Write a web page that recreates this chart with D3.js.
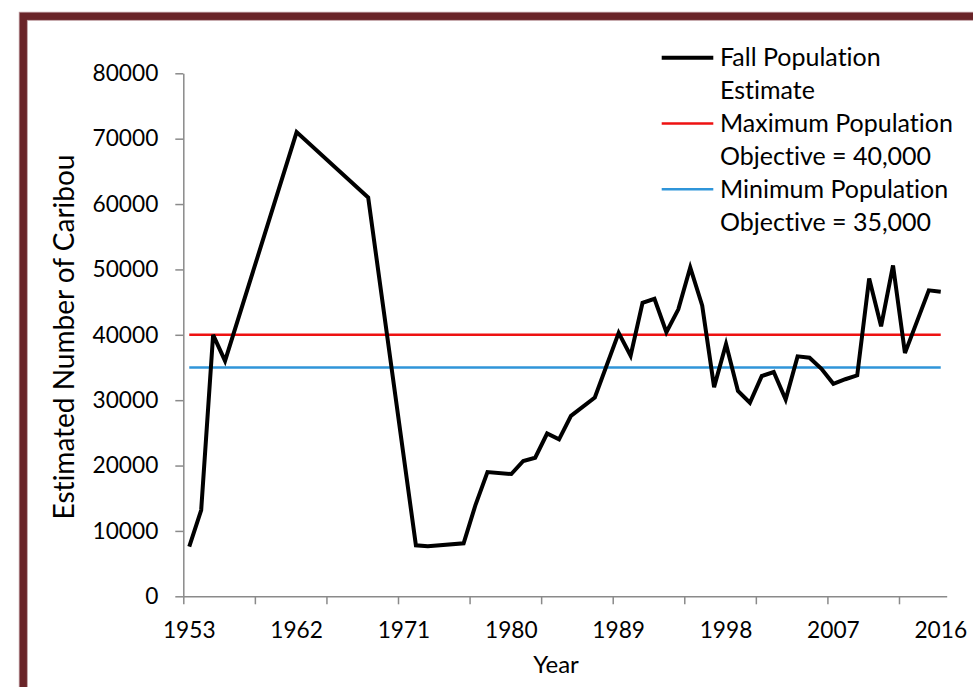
<!doctype html>
<html lang="en">
<head>
  <meta charset="UTF-8">
  <title>Caribou population</title>
  <style>
    body {
      margin: 0;
      background: #fff;
    }
    #app {
      position: relative;
      width: 973px;
      height: 687px;
      overflow: hidden;
    }
    text {
      font-family: Lato, "Open Sans", sans-serif;
      font-variant-ligatures: none;
      font-feature-settings: "liga" 0, "clig" 0, "dlig" 0;
      fill: #000;
    }
  </style>
</head>
<body>
<div id="app"></div>
<script src="https://cdnjs.cloudflare.com/ajax/libs/d3/7.8.5/d3.min.js"></script>
<script>
  var width = 973;
  var height = 687;

  // fall population estimate, only years that have a survey
  var years = [1953, 1954, 1955, 1956, 1962, 1968, 1972, 1973, 1976, 1977,
               1978, 1980, 1981, 1982, 1983, 1984, 1985, 1987, 1989, 1990,
               1991, 1992, 1993, 1994, 1995, 1996, 1997, 1998, 1999, 2000,
               2001, 2002, 2003, 2004, 2005, 2006, 2007, 2008, 2009, 2010,
               2011, 2012, 2013, 2015, 2016];
  var estimates = [7600, 13200, 40000, 36000, 71000, 61000, 7800, 7650, 8100, 14000,
                   19000, 18700, 20700, 21200, 24900, 24000, 27600, 30400, 40300, 36800,
                   44900, 45500, 40400, 43900, 50300, 44500, 32000, 38600, 31400, 29600,
                   33700, 34300, 30100, 36700, 36500, 34800, 32500, 33200, 33800, 48600,
                   41300, 50600, 37200, 46800, 46600];

  var firstYear = 1953;
  var lastYear = 2016;
  var maxObjective = 40000;
  var minObjective = 35000;

  var yTicks = [0, 10000, 20000, 30000, 40000, 50000, 60000, 70000, 80000];
  var yearLabels = [1953, 1962, 1971, 1980, 1989, 1998, 2007, 2016];

  var legendItems = [
    {lines: ['Fall Population', 'Estimate'], color: '#000', w: 4},
    {lines: ['Maximum Population', 'Objective = 40,000'], color: '#ee1111', w: 2.5},
    {lines: ['Minimum Population', 'Objective = 35,000'], color: '#2f95d9', w: 2.5}
  ];

  var svg = d3.select('#app')
              .append('svg')
              .attr('width', width)
              .attr('height', height);

  // maroon frame, cut off on the right and bottom
  svg.append('rect')
    .attr('x', 23.3)
    .attr('y', 16.3)
    .attr('width', 1000)
    .attr('height', 1000)
    .attr('fill', 'none')
    .attr('stroke', '#b9969a')
    .attr('stroke-width', 9);
  svg.append('rect')
    .attr('x', 23.3)
    .attr('y', 16.3)
    .attr('width', 1000)
    .attr('height', 1000)
    .attr('fill', 'none')
    .attr('stroke', '#692428')
    .attr('stroke-width', 7.2);

  // category axis: one slot per year, points sit in the middle of a slot
  var x = d3.scaleLinear()
            .domain([firstYear - 0.5, lastYear + 0.5])
            .range([183.3, 946.7]);
  var y = d3.scaleLinear()
            .domain([0, 80000])
            .range([596.3, 73.3]);

  var axisColor = '#8a8a8a';

  var tickSlots = d3.range(firstYear - 0.5, lastYear + 0.5, 6);

  var gx = svg.append('g')
    .attr('transform', 'translate(0,' + y(0) + ')')
    .call(d3.axisBottom(x).tickValues(tickSlots).tickFormat('').tickSize(8).tickSizeOuter(0));
  gx.selectAll('path, line').attr('stroke', axisColor).attr('stroke-width', 1.5);

  var gy = svg.append('g')
    .attr('transform', 'translate(' + x(firstYear - 0.5) + ',0)')
    .call(d3.axisLeft(y).tickValues(yTicks).tickSize(8).tickSizeOuter(0).tickPadding(17).tickFormat(d3.format('d')));
  gy.selectAll('path, line').attr('stroke', axisColor).attr('stroke-width', 1.5);
  gy.selectAll('text')
    .attr('font-size', '22.7px')
    .attr('font-family', 'Lato, sans-serif')
    .attr('fill', '#000');

  svg.append('g')
    .selectAll('text')
    .data(yearLabels)
    .enter()
    .append('text')
    .attr('x', d => x(d))
    .attr('y', 638)
    .attr('text-anchor', 'middle')
    .attr('font-size', '22.7px')
    .text(d => d);

  // objective lines
  var flatLine = d3.line()
    .x(d => x(d[0]))
    .y(d => y(d[1]));

  svg.append('path')
    .attr('d', flatLine([[firstYear, maxObjective], [lastYear, maxObjective]]))
    .attr('fill', 'none')
    .attr('stroke', legendItems[1].color)
    .attr('stroke-width', 2.5);

  svg.append('path')
    .attr('d', flatLine([[firstYear, minObjective], [lastYear, minObjective]]))
    .attr('fill', 'none')
    .attr('stroke', legendItems[2].color)
    .attr('stroke-width', 2.5);

  var line = d3.line()
    .x((d, i) => x(years[i]))
    .y(d => y(d));

  svg.append('path')
    .attr('d', line(estimates))
    .attr('fill', 'none')
    .attr('stroke', '#000')
    .attr('stroke-width', 4)
    .attr('stroke-linejoin', 'miter');

  // axis titles
  svg.append('text')
    .attr('transform', 'translate(74,337) rotate(-90)')
    .attr('text-anchor', 'middle')
    .attr('font-size', '28px')
    .text('Estimated Number of Caribou');

  svg.append('text')
    .attr('x', 556)
    .attr('y', 673)
    .attr('text-anchor', 'middle')
    .attr('font-size', '24px')
    .text('Year');

  // legend
  var legend = svg.append('g');
  legendItems.forEach(function(item, i) {
    var cy = 57.7 + i * 65.8;
    legend.append('line')
      .attr('x1', 661.7)
      .attr('x2', 713.3)
      .attr('y1', cy)
      .attr('y2', cy)
      .attr('stroke', item.color)
      .attr('stroke-width', item.w);
    item.lines.forEach(function(t, j) {
      legend.append('text')
        .attr('x', 720)
        .attr('y', cy + 8.3 + j * 33)
        .attr('font-size', '25px')
        .text(t);
    });
  });
</script>
</body>
</html>
